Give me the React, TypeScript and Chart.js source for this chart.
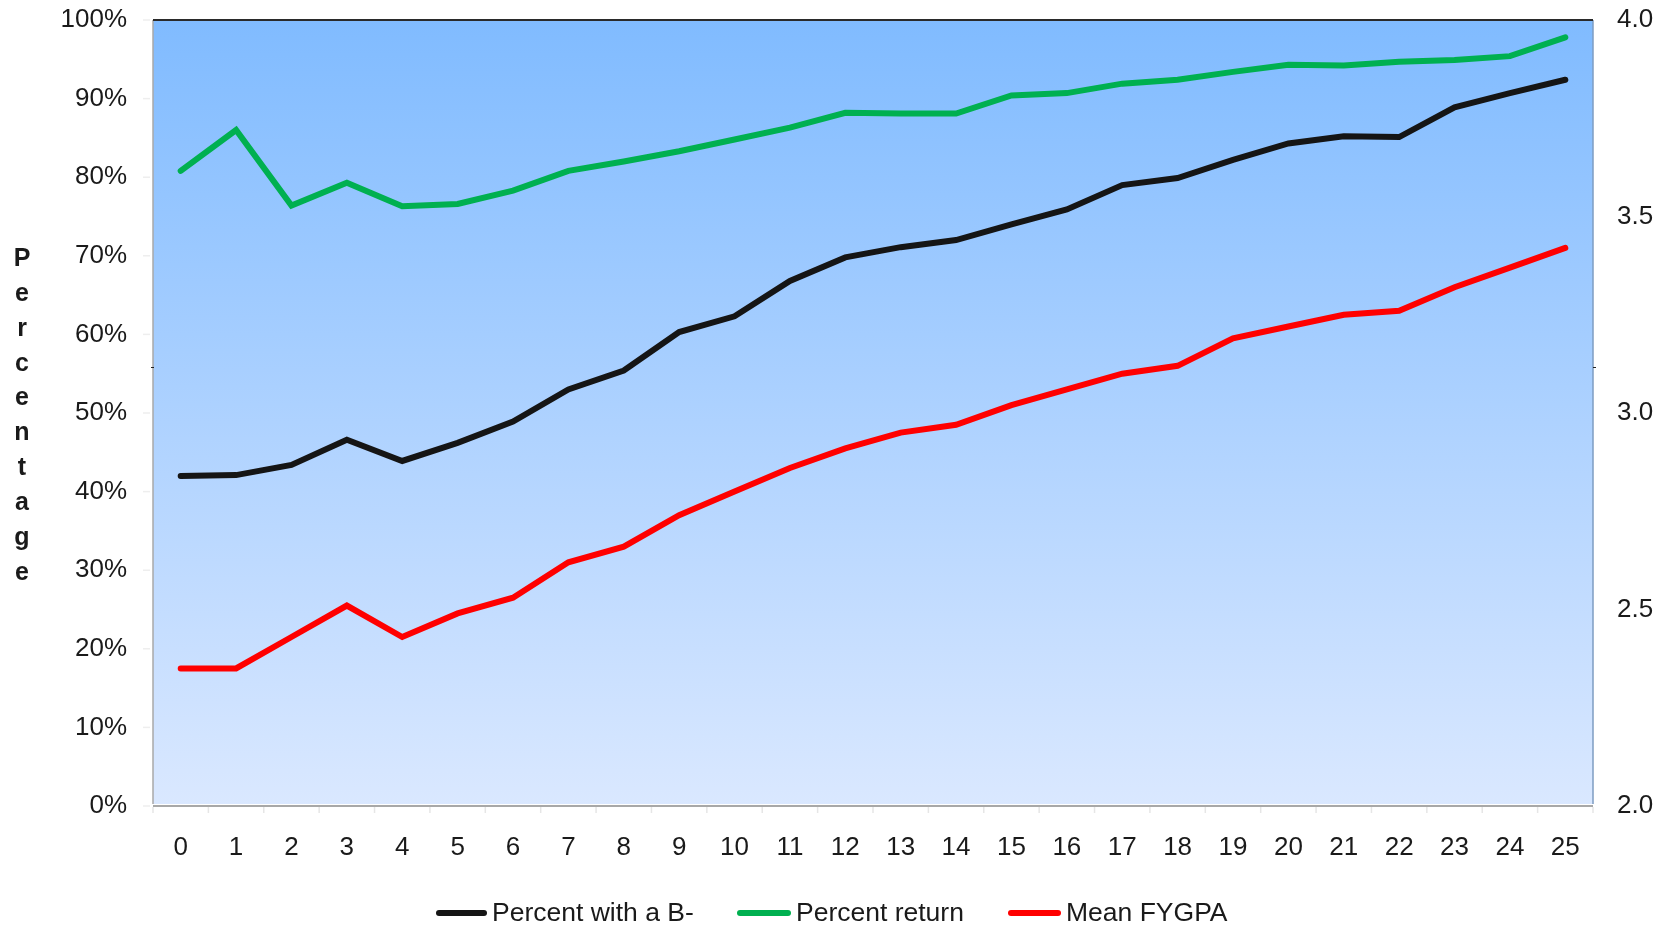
import React, { useEffect, useRef } from "react";
import { Chart, registerables } from "chart.js";

Chart.register(...registerables);

const categories = ["0","1","2","3","4","5","6","7","8","9","10","11","12","13","14","15","16","17","18","19","20","21","22","23","24","25"];
const percentWithBMinus = [42.0, 42.1, 43.4, 46.6, 43.9, 46.2, 48.9, 53.0, 55.4, 60.3, 62.3, 66.8, 69.8, 71.1, 72.0, 74.0, 75.9, 79.0, 79.9, 82.2, 84.3, 85.2, 85.1, 88.9, 90.7, 92.4];
const percentReturn = [80.8, 86.0, 76.4, 79.3, 76.3, 76.6, 78.3, 80.8, 82.0, 83.3, 84.8, 86.3, 88.2, 88.1, 88.1, 90.4, 90.7, 91.9, 92.4, 93.4, 94.3, 94.2, 94.7, 94.9, 95.4, 97.8];
const meanFYGPA = [2.35, 2.35, 2.43, 2.51, 2.43, 2.49, 2.53, 2.62, 2.66, 2.74, 2.80, 2.86, 2.91, 2.95, 2.97, 3.02, 3.06, 3.10, 3.12, 3.19, 3.22, 3.25, 3.26, 3.32, 3.37, 3.42];
const seriesNames = ["Percent with a B-", "Percent return", "Mean FYGPA"];
const seriesColors = ["#151515", "#00B050", "#FF0000"];
const yTitle = "Percentage";

const FONT = "'Liberation Sans', Arial, sans-serif";

const decorPlugin = {
  id: "decor",
  beforeDraw(chart: any) {
    const { ctx, chartArea: a } = chart;
    ctx.save();
    const g = ctx.createLinearGradient(0, a.top, 0, a.bottom);
    g.addColorStop(0, "#80BBFF");
    g.addColorStop(1, "#DAE8FF");
    ctx.fillStyle = g;
    ctx.fillRect(a.left, a.top, a.right - a.left, a.bottom - a.top - 2);
    ctx.restore();
  },
  afterDraw(chart: any) {
    const { ctx, chartArea: a, scales } = chart;
    ctx.save();
    // left border
    ctx.strokeStyle = "#A8A8A8";
    ctx.lineWidth = 1.5;
    ctx.beginPath();
    ctx.moveTo(a.left, a.top);
    ctx.lineTo(a.left, a.bottom - 2);
    ctx.stroke();
    // right border
    ctx.strokeStyle = "#7E9CC2";
    ctx.beginPath();
    ctx.moveTo(a.right, a.top);
    ctx.lineTo(a.right, a.bottom - 2);
    ctx.stroke();
    // top border
    ctx.strokeStyle = "#2A2A2A";
    ctx.lineWidth = 2;
    ctx.beginPath();
    ctx.moveTo(a.left, a.top);
    ctx.lineTo(a.right, a.top);
    ctx.stroke();
    // x axis line
    ctx.strokeStyle = "#A8A8A8";
    ctx.lineWidth = 2;
    ctx.beginPath();
    ctx.moveTo(a.left, a.bottom);
    ctx.lineTo(a.right, a.bottom);
    ctx.stroke();
    // x tick marks at category boundaries
    ctx.strokeStyle = "#E6E6E6";
    ctx.lineWidth = 1.5;
    const step = (a.right - a.left) / categories.length;
    for (let i = 0; i <= categories.length; i++) {
      const x = a.left + i * step;
      ctx.beginPath();
      ctx.moveTo(x, a.bottom + 1);
      ctx.lineTo(x, a.bottom + 7);
      ctx.stroke();
    }
    // faint y tick marks
    const ys = scales.y;
    ctx.strokeStyle = "#EEEEEE";
    for (let v = 0; v <= 100; v += 10) {
      const y = ys.getPixelForValue(v);
      ctx.beginPath();
      ctx.moveTo(a.left - 10, y);
      ctx.lineTo(a.left - 3, y);
      ctx.stroke();
    }
    // stray small marks
    ctx.strokeStyle = "#222";
    ctx.lineWidth = 1;
    ctx.beginPath();
    ctx.moveTo(a.left - 2, 367.5);
    ctx.lineTo(a.left + 1, 367.5);
    ctx.moveTo(a.right, 367.5);
    ctx.lineTo(a.right + 3, 367.5);
    ctx.stroke();

    // y title stacked letters
    ctx.fillStyle = "#1a1a1a";
    ctx.font = `bold 25px ${FONT}`;
    ctx.textAlign = "center";
    ctx.textBaseline = "middle";
    const letters = yTitle.split("");
    letters.forEach((ch, i) => {
      ctx.fillText(ch, 22, 259 + i * 34.9);
    });

    // legend
    const legendLines = [
      [436, 487, 492],
      [737, 791, 796],
      [1008, 1061, 1066],
    ];
    ctx.font = `26.5px ${FONT}`;
    ctx.textAlign = "left";
    ctx.lineCap = "round";
    seriesNames.forEach((name, i) => {
      const [x0, x1, tx] = legendLines[i];
      ctx.strokeStyle = seriesColors[i];
      ctx.lineWidth = 6;
      ctx.beginPath();
      ctx.moveTo(x0 + 3, 913);
      ctx.lineTo(x1 - 3, 913);
      ctx.stroke();
      ctx.fillStyle = "#1a1a1a";
      ctx.fillText(name, tx, 914);
    });
    ctx.restore();
  },
};

export default function App() {
  const ref = useRef<HTMLCanvasElement | null>(null);
  useEffect(() => {
    if (!ref.current) return;
    const lineStyle = {
      borderWidth: 6,
      pointRadius: 0,
      tension: 0,
      borderCapStyle: "round" as const,
      borderJoinStyle: "miter" as const,
      fill: false,
    };
    const chart = new Chart(ref.current, {
      type: "line",
      data: {
        labels: categories,
        datasets: [
          { label: seriesNames[2], data: meanFYGPA, borderColor: seriesColors[2], yAxisID: "y1", ...lineStyle },
          { label: seriesNames[0], data: percentWithBMinus, borderColor: seriesColors[0], yAxisID: "y", ...lineStyle },
          { label: seriesNames[1], data: percentReturn, borderColor: seriesColors[1], yAxisID: "y", ...lineStyle },
        ],
      },
      options: {
        responsive: false,
        animation: false,
        layout: { autoPadding: false, padding: { top: 20, left: 0, right: 0, bottom: 0 } },
        plugins: { legend: { display: false }, tooltip: { enabled: false } },
        scales: {
          x: {
            type: "category",
            offset: true,
            grid: { display: false, drawTicks: false },
            border: { display: false },
            ticks: { color: "#1a1a1a", font: { family: FONT, size: 26 }, padding: 26, maxRotation: 0, autoSkip: false },
            afterFit: (s: any) => { s.height = 122; s.paddingLeft = 0; s.paddingRight = 0; },
          },
          y: {
            position: "left",
            min: 0,
            max: 100,
            grid: { display: false, drawTicks: false },
            border: { display: false },
            ticks: { stepSize: 10, color: "#1a1a1a", font: { family: FONT, size: 26 }, padding: 26, callback: (v: any) => `${v}%` },
            afterFit: (s: any) => { s.width = 153; s.paddingTop = 0; s.paddingBottom = 0; },
          },
          y1: {
            position: "right",
            min: 2,
            max: 4,
            grid: { display: false, drawTicks: false },
            border: { display: false },
            ticks: { stepSize: 0.5, color: "#1a1a1a", font: { family: FONT, size: 26 }, padding: 24, callback: (v: any) => Number(v).toFixed(1) },
            afterFit: (s: any) => { s.width = 76; s.paddingTop = 0; s.paddingBottom = 0; },
          },
        },
      },
      plugins: [decorPlugin],
    });
    return () => chart.destroy();
  }, []);
  return (
    <div style={{ position: "absolute", left: 0, top: 0, width: 1669, height: 928, background: "#fff" }}>
      <canvas ref={ref} width={1669} height={928} style={{ display: "block" }} />
    </div>
  );
}
